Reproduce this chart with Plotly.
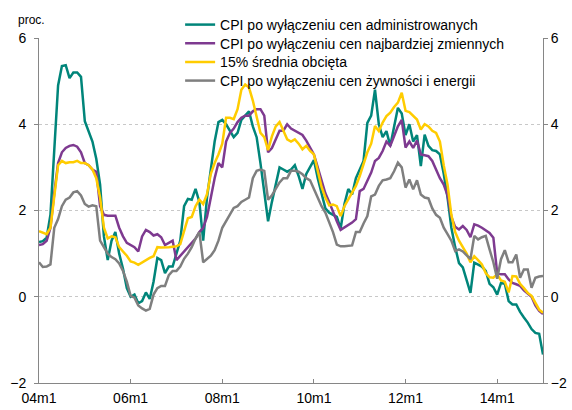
import plotly.graph_objects as go

# monthly index 0 = 2004m1 ... 132 = 2015m1
months = list(range(133))
tick_vals = [0, 24, 48, 72, 96, 120]
tick_text = ["04m1", "06m1", "08m1", "10m1", "12m1", "14m1"]

admin = [
    1.27, 1.29, 1.37, 1.9, 3.4, 4.9, 5.35, 5.37, 5.07, 5.2, 5.2, 5.1,
    4.07, 3.85, 3.6, 3.2, 2.6, 1.4, 0.85, 1.3, 1.5, 1.0, 0.65, 0.2,
    0.0, 0.05, -0.15, -0.1, 0.1, -0.05, 0.35, 0.9, 0.85, 0.55, 0.7, 0.7,
    1.0, 1.3, 2.1, 2.27, 2.25, 2.5, 2.2, 1.3, 2.3, 2.9, 3.6, 4.05,
    4.1, 4.0, 3.85, 3.7, 3.8, 4.1, 4.2, 4.3, 3.95, 3.7, 3.1, 2.4,
    1.75, 2.2, 2.6, 3.0, 2.95, 2.9, 2.95, 3.05, 2.8, 2.5, 2.85, 3.0,
    3.17, 2.75, 2.4, 2.05, 1.95, 1.9, 1.85, 1.58, 2.15, 2.5, 2.37, 2.75,
    2.95, 3.15, 4.03, 4.2, 4.8, 4.0, 3.7, 3.84, 3.5, 3.95, 4.38, 4.25,
    3.75, 4.0, 3.6, 3.75, 3.03, 3.76, 3.5, 3.4, 3.38, 3.3, 2.85, 2.3,
    1.6, 1.15, 0.78, 0.68, 0.4, 0.09, 0.79, 0.75, 0.7, 0.6, 0.3, 0.22,
    0.05, 0.32, 0.3, -0.1, -0.18, -0.18, -0.35, -0.48, -0.6, -0.75, -0.84, -0.86,
    -1.34,
]

volatile = [
    1.2, 1.22, 1.3, 1.6, 2.4, 3.1, 3.35, 3.45, 3.5, 3.52, 3.48, 3.35,
    3.1, 3.05, 2.95, 2.9, 2.1, 1.9, 1.88, 1.88, 1.88, 1.6, 1.4, 1.25,
    1.2, 1.15, 1.05, 1.4, 1.55, 1.5, 1.42, 1.45, 1.38, 1.2, 1.25, 1.3,
    0.85, 0.95, 1.05, 1.15, 1.25, 1.35, 1.5, 1.6, 1.85, 2.3, 2.75, 3.1,
    3.0, 3.6, 3.8, 3.9, 4.05, 4.15, 4.2, 4.2, 4.3, 4.35, 4.35, 4.2,
    3.35, 3.45, 3.65, 3.85, 3.85, 4.0, 3.9, 3.85, 3.8, 3.75, 3.62, 3.45,
    3.3, 3.0, 2.7, 2.4, 2.2, 1.95, 1.75, 1.55, 1.6, 1.66, 1.72, 1.8,
    2.45, 2.5, 2.7, 2.88, 3.15, 3.22, 3.38, 3.6, 3.5, 3.75, 3.95, 4.1,
    3.46, 3.6, 3.45, 3.62, 3.3, 3.28, 3.26, 3.15, 2.95, 2.75, 2.6, 2.35,
    1.85, 1.62, 1.56, 1.64, 1.55, 1.38, 1.68, 1.65, 1.6, 1.55, 1.48, 1.37,
    0.55, 0.52, 0.52, 0.4, 0.32, 0.29, 0.25, 0.15, 0.08, 0.0, -0.2, -0.33,
    -0.4,
]

trimmed = [
    1.52, 1.48, 1.45, 1.6, 2.4, 3.05, 3.15, 3.1, 3.12, 3.12, 3.15, 3.1,
    3.1, 3.05, 2.95, 2.75, 2.3, 1.6, 1.35, 1.4, 1.38, 1.15, 1.05, 0.95,
    0.82, 0.79, 0.74, 0.8, 0.85, 0.9, 0.94, 1.15, 1.14, 1.14, 1.15, 1.16,
    1.17, 1.22, 1.5, 1.82, 1.85, 2.1, 2.25, 2.15, 2.38, 2.85, 3.1, 3.3,
    3.55, 4.15, 4.15, 4.12, 4.35, 4.8, 4.92, 4.85, 4.55, 4.2, 3.8, 3.7,
    3.4, 3.72, 3.95, 4.05, 3.85, 3.65, 3.6, 3.65, 3.55, 3.42, 3.5, 3.38,
    3.3, 2.95, 2.55, 2.3, 2.12, 2.14, 2.1, 1.87, 2.1, 2.26, 2.41, 2.57,
    2.8, 3.1, 3.35, 3.55, 3.96, 3.84, 4.04, 4.19, 4.27, 4.4, 4.5, 4.73,
    4.31, 4.28, 4.2, 4.11, 3.88, 4.0, 3.95, 3.85, 3.8, 3.6, 3.05, 2.6,
    1.9, 1.5, 1.3, 1.15, 1.0, 0.8, 0.94, 0.85, 0.75, 0.55, 0.45, 0.44,
    0.52, 0.38, 0.35, 0.1, 0.48, 0.47, 0.3, 0.2, 0.09, 0.02, -0.15, -0.3,
    -0.37,
]

core = [
    0.8, 0.69, 0.7, 0.75, 1.6, 1.8, 2.1, 2.25, 2.3, 2.42, 2.45, 2.35,
    2.15, 2.09, 2.12, 2.1, 1.3, 1.15, 1.0, 0.92, 0.87, 0.77, 0.6, 0.35,
    0.02, -0.02, -0.2, -0.27, -0.32, -0.28, 0.05, 0.2, 0.25, 0.25, 0.5, 0.6,
    0.6, 0.7, 0.88, 1.0, 1.15, 1.35, 1.5, 0.8, 0.88, 0.95, 1.08, 1.3,
    1.6, 1.75, 1.9, 2.06, 2.1, 2.2, 2.25, 2.3, 2.75, 2.92, 2.95, 2.92,
    2.25, 2.35, 2.5, 2.65, 2.75, 2.75, 2.92, 2.92, 2.9, 2.84, 2.75, 2.7,
    2.5, 2.3, 2.1, 1.95, 1.72, 1.5, 1.21, 1.17, 1.17, 1.18, 1.19, 1.5,
    1.5, 1.7, 1.87, 2.33, 2.37, 2.57, 2.7, 2.72, 2.75, 2.91, 3.11, 3.0,
    2.53, 2.72, 2.49, 2.7, 2.37, 2.3, 2.28, 2.05, 1.9, 1.83, 1.6, 1.45,
    1.3, 1.06, 1.1, 1.05, 0.95, 0.87, 1.41, 1.33, 1.38, 1.41, 1.1, 0.8,
    0.42, 0.87, 1.08, 0.8, 0.8, 0.98, 0.44, 0.63, 0.63, 0.21, 0.44, 0.47,
    0.48,
]

names = [
    "CPI po wyłączeniu cen administrowanych",
    "CPI po wyłączeniu cen najbardziej zmiennych",
    "15% średnia obcięta",
    "CPI po wyłączeniu cen żywności i energii",
]
colors = ["#00857A", "#7E3A90", "#FFCC00", "#7F7F7F"]
series = [admin, volatile, trimmed, core]
axes = ["y", "y", "y", "y2"]
legend_ids = ["legend", "legend2", "legend3", "legend4"]
legend_rows = [1.0377, 0.9835, 0.9296, 0.8754]

FONT = "Arial, Liberation Sans, sans-serif"

fig = go.Figure()
for name, vals, col, ax, lg in zip(names, series, colors, axes, legend_ids):
    fig.add_trace(go.Scatter(
        x=months, y=vals, name=name, mode="lines", yaxis=ax, legend=lg,
        line=dict(color=col, width=2.5),
    ))

axis_common = dict(
    range=[-2, 6], dtick=2, tick0=-2,
    showline=True, linecolor="#868686", linewidth=1,
    ticks="outside", ticklen=4, tickcolor="#868686",
    zeroline=False,
    tickfont=dict(family=FONT, size=14, color="#000000"),
)

legend_style = dict(
    x=0.28, xanchor="left", yanchor="middle",
    bgcolor="rgba(0,0,0,0)", borderwidth=0,
    font=dict(family=FONT, size=14, color="#000000"),
)

fig.update_layout(
    width=572, height=410,
    margin=dict(l=39, r=29, t=38, b=27, autoexpand=False),
    paper_bgcolor="white", plot_bgcolor="white",
    font=dict(family=FONT, size=14, color="#000000"),
    xaxis=dict(
        range=[0, 132], tickvals=tick_vals, ticktext=tick_text,
        showline=True, linecolor="#868686", linewidth=1,
        ticks="inside", ticklen=4, tickcolor="#868686",
        showgrid=False, zeroline=False, ticklabelstandoff=2,
        tickfont=dict(family=FONT, size=14, color="#000000"),
    ),
    yaxis=dict(**axis_common, showgrid=True, gridcolor="#C8C8C8",
               griddash="dot", gridwidth=1, ticklabelstandoff=5),
    yaxis2=dict(**axis_common, overlaying="y", side="right", showgrid=False),
    legend=dict(**legend_style, y=legend_rows[0]),
    legend2=dict(**legend_style, y=legend_rows[1]),
    legend3=dict(**legend_style, y=legend_rows[2]),
    legend4=dict(**legend_style, y=legend_rows[3]),
    showlegend=True,
)

fig.add_annotation(
    text="proc.", xref="paper", yref="paper",
    x=-0.046, y=1.053, xanchor="left", yanchor="middle",
    showarrow=False, font=dict(family=FONT, size=12, color="#000000"),
)

fig.write_html("out.html", config={"displayModeBar": False},
               post_script="document.body.style.margin='0';")
